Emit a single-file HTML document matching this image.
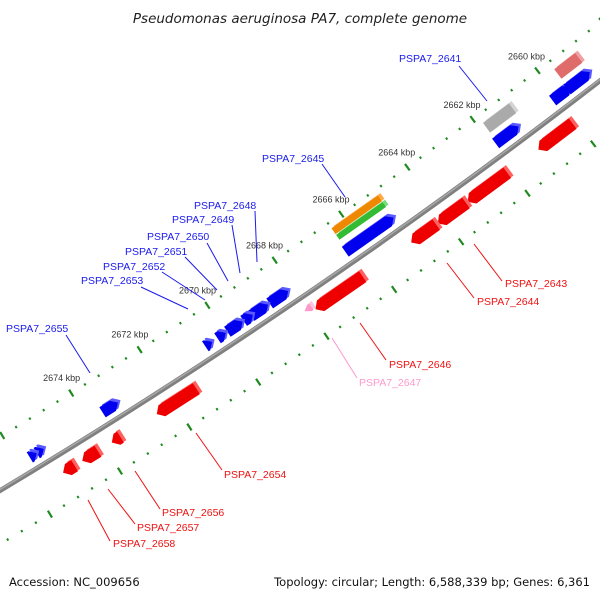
<!DOCTYPE html>
<html><head><meta charset="utf-8"><style>
html,body{margin:0;padding:0;background:#fff;width:600px;height:600px;overflow:hidden;}
svg{display:block;font-family:"Liberation Sans","DejaVu Sans",sans-serif;overflow:hidden;}
</style></head><body>
<svg id="chart" width="600" height="600" viewBox="0 0 600 600" xmlns="http://www.w3.org/2000/svg">
<rect width="600" height="600" fill="#fff"/>
<text x="300" y="23" text-anchor="middle" font-size="13.5" font-style="italic" fill="#222" font-family="DejaVu Sans, sans-serif">Pseudomonas aeruginosa PA7, complete genome</text>
<g id="ticks"></g>
<circle cx="-3165" cy="-4786" r="6153" fill="none" stroke="#808080" stroke-width="5"/>
<circle cx="-3165" cy="-4786" r="6152" fill="none" stroke="#a8a8a8" stroke-width="1.5"/>
<g id="genes"></g>
<g id="labels"></g>
<text x="9" y="586" font-size="11.5" fill="#111" font-family="DejaVu Sans, sans-serif">Accession: NC_009656</text>
<text x="590" y="586" text-anchor="end" font-size="11.5" fill="#111" font-family="DejaVu Sans, sans-serif">Topology: circular; Length: 6,588,339 bp; Genes: 6,361</text>
</svg>
<script>
const geneStart  = [2659.6, 2659.0, 2661.2, 2665.0, 2665.0, 2665.0, 2668.15, 2668.75, 2669.2, 2669.5, 2670.0, 2670.4, 2673.15, 2675.3, 2675.5, 2660.1, 2662.1, 2663.35, 2664.25, 2666.45, 2667.9, 2671.35, 2673.55, 2674.2, 2674.87, 2659.0, 2661.05];
const geneEnd    = [2660.15, 2659.7, 2661.9, 2666.45, 2666.4, 2666.4, 2668.7, 2669.25, 2669.47, 2669.95, 2670.24, 2670.6, 2673.6, 2675.5, 2675.7, 2661.15, 2663.3, 2664.2, 2665.0, 2667.85, 2668.1, 2672.5, 2673.8, 2674.65, 2675.2, 2659.65, 2661.85];
const geneStrand = [1,1,1,1,0,0,1,1,1,1,1,1,1,1,1,-1,-1,-1,-1,-1,-1,-1,-1,-1,-1,0,0];
const geneColor  = ["blue","blue","blue","blue","green","orange","blue","blue","blue","blue","blue","blue","blue","blue","blue","red","red","red","red","red","pink","red","red","red","red","salmon","grey"];
const tickMin = 2656, tickMax = 2678, tickMinor = 0.4;
const tickLabels = [2660, 2662, 2664, 2666, 2668, 2670, 2672, 2674];

const CX = -3165, CY = -4786, A0 = 53.44, KBP0 = 2662, DEG = 0.38;
function ang(k){ return (A0 + (k - KBP0) * DEG) * Math.PI / 180; }
function pt(k, r){ const a = ang(k); return [CX + r * Math.cos(a), CY + r * Math.sin(a)]; }
const NS = "http://www.w3.org/2000/svg";
const fills = {blue:["#0000ee","#5a5aff"], red:["#ee0000","#ff6060"], green:["#33bb33","#77dd77"], orange:["#ee8800","#ffaa44"], pink:["#ff99cc","#ffc4e0"], salmon:["#e06b6b","#f0a0a0"], grey:["#aaaaaa","#d4d4d4"]};
const bands = {blue:[6134,6146], red:[6164,6177], green:[6121,6127], orange:[6113,6120], pink:[6162,6170], salmon:[6116,6128], grey:[6116,6128]};

const tg = document.getElementById('ticks');
const nT = Math.round((tickMax - tickMin) / tickMinor);
for (let i = 0; i <= nT; i++) {
  const k = tickMin + i * tickMinor;
  const major = Math.abs(k / 2 - Math.round(k / 2)) < 1e-6;
  [6107, 6199].forEach(r => {
    const h = major ? 4 : 1.2;
    const p1 = pt(k, r - h), p2 = pt(k, r + h);
    const l = document.createElementNS(NS, 'line');
    
    
    l.setAttribute('x1', p1[0]); l.setAttribute('y1', p1[1]);
    l.setAttribute('x2', p2[0]); l.setAttribute('y2', p2[1]);
    l.setAttribute('stroke', '#1f8a1f'); l.setAttribute('stroke-width', major ? 2.2 : 2);
    tg.appendChild(l);
  });
}
tickLabels.forEach(k => {
  const p = pt(k, 6089);
  const t = document.createElementNS(NS, 'text');
  
  
  t.setAttribute('x', p[0]); t.setAttribute('y', p[1] + 3);
  t.setAttribute('text-anchor', 'middle'); t.setAttribute('font-size', '9');
  t.setAttribute('fill', '#333');
  t.textContent = k + ' kbp';
  tg.appendChild(t);
});

const gg = document.getElementById('genes');
function poly(pts, fill, name){
  const p = document.createElementNS(NS, 'polygon');
  
  
  p.setAttribute('points', pts.map(q => q[0].toFixed(1) + ',' + q[1].toFixed(1)).join(' '));
  p.setAttribute('fill', fill);
  gg.appendChild(p);
}
for (let i = 0; i < geneStart.length; i++) {
  const s = geneStart[i], e = geneEnd[i], st = geneStrand[i], c = geneColor[i];
  const [r0, r1] = bands[c], rm = (r0 + r1) / 2;
  const head = Math.min(0.15, (e - s));
  let pts;
  if (st === 1) {
    pts = [pt(s, rm), pt(s + head, r0), pt(e, r0), pt(e, r1), pt(s + head, r1)];
  } else if (st === -1) {
    pts = [pt(s, r0), pt(e - head, r0), pt(e, rm), pt(e - head, r1), pt(s, r1)];
  } else {
    pts = [pt(s, r0), pt(e, r0), pt(e, r1), pt(s, r1)];
  }
  const top = pts.map(q => [q[0] + 2.5, q[1] - 2.5]);
  poly(top, fills[c][1], 'gene-' + i + '-top');
  poly(pts, fills[c][0], 'gene-' + i);
}

const labelText  = ["PSPA7_2641","PSPA7_2645","PSPA7_2648","PSPA7_2649","PSPA7_2650","PSPA7_2651","PSPA7_2652","PSPA7_2653","PSPA7_2655","PSPA7_2643","PSPA7_2644","PSPA7_2646","PSPA7_2647","PSPA7_2654","PSPA7_2656","PSPA7_2657","PSPA7_2658"];
const labelColor = ["#1a1aee","#1a1aee","#1a1aee","#1a1aee","#1a1aee","#1a1aee","#1a1aee","#1a1aee","#1a1aee","#ee1111","#ee1111","#ee1111","#ff99cc","#ee1111","#ee1111","#ee1111","#ee1111"];
const labelPos = [[399,62],[262,162],[194,209],[172,223],[147,240],[125,255],[103,270],[81,284],[6,332],[505,287],[477,305],[389,368],[359,386],[224,478],[162,516],[137,531],[113,547]];
const leader = [[459,66,487,101],[322,164,345,197],[255,211,257,262],[232,225,240,273],[207,243,228,281],[185,257,217,290],[162,272,205,300],[141,287,188,309],[66,335,90,373],[474,244,502,281],[447,263,474,298],[360,323,386,360],[332,338,357,378],[196,433,222,470],[135,471,160,509],[108,489,135,524],[88,500,110,541]];
const lg = document.getElementById('labels');
for (let i = 0; i < labelText.length; i++) {
  const L = leader[i];
  const l = document.createElementNS(NS, 'line');
  
  
  l.setAttribute('x1', L[0]); l.setAttribute('y1', L[1]); l.setAttribute('x2', L[2]); l.setAttribute('y2', L[3]);
  l.setAttribute('stroke', labelColor[i]); l.setAttribute('stroke-width', '1');
  lg.appendChild(l);
  const t = document.createElementNS(NS, 'text');
  
  
  t.setAttribute('x', labelPos[i][0]); t.setAttribute('y', labelPos[i][1]);
  t.setAttribute('font-size', '10.5'); t.setAttribute('fill', labelColor[i]);
  t.textContent = labelText[i];
  lg.appendChild(t);
}
</script>
</body></html>
